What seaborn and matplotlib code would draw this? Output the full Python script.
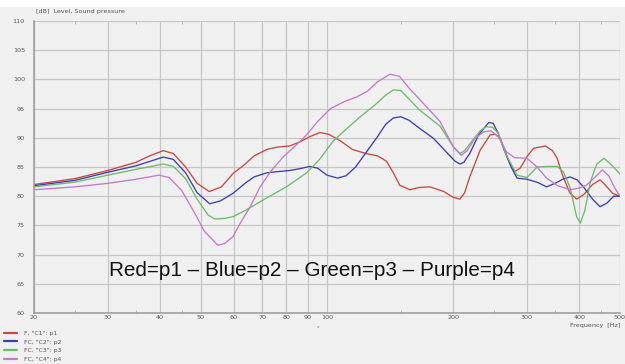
import numpy as np
import pandas as pd
import matplotlib
matplotlib.use("Agg")
import matplotlib.pyplot as plt
from matplotlib.lines import Line2D
from matplotlib.patches import Rectangle
from matplotlib.ticker import FixedLocator, NullFormatter
import seaborn as sns

# Measured sound pressure level (dB) versus frequency (Hz) for four positions
p1_freq = [20, 25, 30, 35, 38, 40.7, 43, 46, 49, 52.4, 56, 59.7, 63.3, 67, 71.8, 76, 81.4, 86.2, 91,
           96.2, 101, 107.5, 115, 124, 132, 138.6, 144, 149, 157.6, 166, 176, 190, 200, 207.6, 213,
           219, 232, 245, 252, 259, 272, 280, 289, 300, 311, 332, 345, 354, 365, 380, 394, 410, 430,
           448, 460, 480, 500]
p1_db = [82.0, 83.0, 84.4, 85.8, 87.0, 87.8, 87.3, 85.0, 82.2, 80.8, 81.6, 83.9, 85.3, 86.9, 88.0, 88.4,
         88.6, 89.3, 90.2, 90.9, 90.6, 89.5, 88.0, 87.3, 86.9, 86.0, 84.0, 81.9, 81.1, 81.5, 81.6, 80.8,
         79.8, 79.5, 80.6, 83.3, 87.9, 90.5, 90.6, 89.9, 85.9, 84.2, 84.8, 86.8, 88.2, 88.6, 87.8, 86.5,
         83.5, 80.5, 79.5, 80.3, 82.0, 82.8, 82.0, 80.5, 80.0]

p2_freq = [20, 25, 30, 35, 40.7, 43, 46, 49, 52.5, 55.7, 59.7, 64, 67, 71.8, 76, 81.4, 86, 91, 95, 100,
           106, 111, 117, 124, 132, 138, 144, 150, 157, 165, 179.5, 193, 202, 207.6, 212, 219, 230,
           243, 249, 256, 265, 275, 284, 300, 317, 334, 350, 365, 380, 395, 410, 430, 448, 465, 483, 500]
p2_db = [81.8, 82.7, 84.1, 85.2, 86.7, 86.3, 84.0, 80.6, 78.7, 79.2, 80.5, 82.3, 83.3, 84.0, 84.2, 84.4,
         84.7, 85.1, 84.8, 83.6, 83.1, 83.5, 85.0, 87.5, 90.2, 92.3, 93.4, 93.6, 93.0, 91.8, 89.9, 87.5,
         86.0, 85.5, 85.8, 87.3, 90.5, 92.6, 92.5, 90.8, 87.8, 85.0, 83.1, 82.9, 82.4, 81.6, 82.2, 82.9,
         83.3, 82.8, 81.5, 79.5, 78.2, 78.8, 80.0, 80.0]

p3_freq = [20, 25, 30, 35, 40.7, 43, 46, 49, 52, 54, 57, 59.7, 64, 71.8, 80, 89.4, 96, 103.6, 110, 120,
           130, 138, 144, 150, 157.6, 166, 186, 200, 207.6, 213, 222, 232, 240, 248, 256, 268, 284, 300,
           317, 335, 354, 366, 380, 394, 402, 412, 425, 440, 458, 475, 500]
p3_db = [81.6, 82.4, 83.6, 84.6, 85.5, 85.1, 83.0, 79.5, 76.8, 76.1, 76.2, 76.5, 77.6, 79.7, 81.6, 84.0,
         86.3, 89.5, 91.2, 93.6, 95.6, 97.3, 98.2, 98.1, 96.5, 94.8, 92.0, 88.5, 87.3, 87.8, 89.5, 91.2,
         91.9, 91.8, 90.8, 87.0, 83.6, 83.2, 85.0, 85.1, 85.1, 84.2, 81.5, 76.5, 75.4, 77.5, 82.5, 85.5,
         86.5, 85.5, 83.8]

p4_freq = [20, 25, 30, 35, 39.7, 42, 45, 48, 51, 54.9, 57, 59.7, 62, 65.6, 69, 73.3, 78.8, 84, 89.4, 95,
           101.9, 110, 117.8, 125, 132, 141.4, 149, 157, 166.7, 186, 200, 209, 216, 225, 236, 246, 256,
           268, 280, 300, 317, 334, 355, 380, 400, 416, 435, 454, 470, 485, 500]
p4_db = [81.1, 81.6, 82.2, 82.9, 83.6, 83.2, 81.0, 77.5, 74.0, 71.6, 71.9, 73.1, 75.3, 78.2, 81.4, 84.2,
         86.8, 88.6, 90.5, 92.8, 95.0, 96.2, 97.0, 98.0, 99.6, 100.9, 100.5, 98.5, 96.5, 92.8, 88.5, 87.0,
         87.8, 89.8, 91.0, 91.2, 90.2, 87.6, 86.6, 86.5, 85.0, 83.1, 81.8, 81.1, 81.4, 81.9, 83.2, 84.5,
         83.5, 81.5, 80.0]

series_names = ['F, "C1": p1', 'FC, "C2": p2', 'FC, "C3": p3', 'FC, "C4": p4']
series_colors = ["#c9473f", "#3d3db0", "#6dbb6a", "#c27ac6"]

x_ticks = [20, 30, 40, 50, 60, 70, 80, 90, 100, 200, 300, 400, 500]
x_minor = [25, 35, 45, 150, 250, 350, 450]
y_ticks = list(range(60, 111, 5))

frames = []
for name, f, d in zip(series_names,
                      [p1_freq, p2_freq, p3_freq, p4_freq],
                      [p1_db, p2_db, p3_db, p4_db]):
    frames.append(pd.DataFrame({"freq": f, "db": d, "series": name}))
df = pd.concat(frames, ignore_index=True)

sns.set_theme(style="whitegrid")
plt.rcParams["font.family"] = ["DejaVu Sans"]

bg = "#f0f0f0"
grid_c = "#c6c6c6"
txt_c = "#555555"

fig = plt.figure(figsize=(6.25, 3.64), dpi=100, facecolor=bg)
fig.patches.append(Rectangle((0, 1 - 7 / 364), 1, 7 / 364, transform=fig.transFigure,
                             facecolor="white", edgecolor="none", zorder=0))
ax = fig.add_axes([34 / 625, 1 - 313 / 364, (620 - 34) / 625, (313 - 21) / 364])
ax.set_facecolor(bg)

sns.lineplot(data=df, x="freq", y="db", hue="series", palette=series_colors,
             hue_order=series_names, sort=False, estimator=None, linewidth=0.95,
             legend=False, ax=ax)
for ln in ax.get_lines():
    ln.set_solid_joinstyle("round")

ax.set_xscale("log")
ax.set_xlim(20, 500)
ax.set_ylim(60, 110)
ax.xaxis.set_major_locator(FixedLocator(x_ticks))
ax.xaxis.set_minor_locator(FixedLocator(x_minor))
ax.xaxis.set_minor_formatter(NullFormatter())
ax.set_xticks(x_ticks)
ax.set_xticklabels([str(t) for t in x_ticks])
ax.set_yticks(y_ticks)
ax.set_yticklabels([str(t) for t in y_ticks])
ax.grid(True, which="major", color=grid_c, linewidth=0.9)
ax.grid(False, which="minor")
ax.tick_params(axis="x", which="major", length=0, labelsize=4.6, labelcolor=txt_c, pad=1.5)
ax.tick_params(axis="y", which="major", length=0, labelsize=4.6, labelcolor=txt_c, pad=6.5)
ax.tick_params(axis="x", which="minor", length=2.5, width=0.6, color="#aaaaaa",
               direction="in", top=True, bottom=True)
for side in ["top", "right"]:
    ax.spines[side].set_visible(False)
ax.spines["left"].set_color("#a0a0a0")
ax.spines["left"].set_linewidth(1.2)
ax.spines["bottom"].set_color("#a0a0a0")
ax.spines["bottom"].set_linewidth(1.2)
ax.set_xlabel("")
ax.set_ylabel("")

fig.text(36 / 625, 1 - 12 / 364, "[dB]  Level, Sound pressure", fontsize=4.6, color=txt_c,
         va="center", ha="left")
fig.text(620 / 625, 1 - 325.5 / 364, "Frequency  [Hz]", fontsize=4.6, color=txt_c,
         va="center", ha="right")
fig.text(318 / 625, 1 - 327 / 364, "v", fontsize=3.2, color="#777777", va="center", ha="center")

fig.text((108 + 515) / 2 / 625, 1 - 271 / 364,
         "Red=p1 \u2013 Blue=p2 \u2013 Green=p3 \u2013 Purple=p4",
         fontsize=14.9, color="#111111", ha="center", va="center",
         family=["Liberation Sans", "DejaVu Sans"])

handles = [Line2D([0], [0], color=c, linewidth=1.6) for c in series_colors]
fig.legend(handles, series_names, loc="upper left", bbox_to_anchor=(0.0, 1 - 327 / 364),
           frameon=False, fontsize=4.4, handlelength=2.2, handletextpad=1.2,
           labelspacing=0.55, borderaxespad=0.2, labelcolor=txt_c)

fig.savefig("out.png", dpi=100, facecolor=bg)
